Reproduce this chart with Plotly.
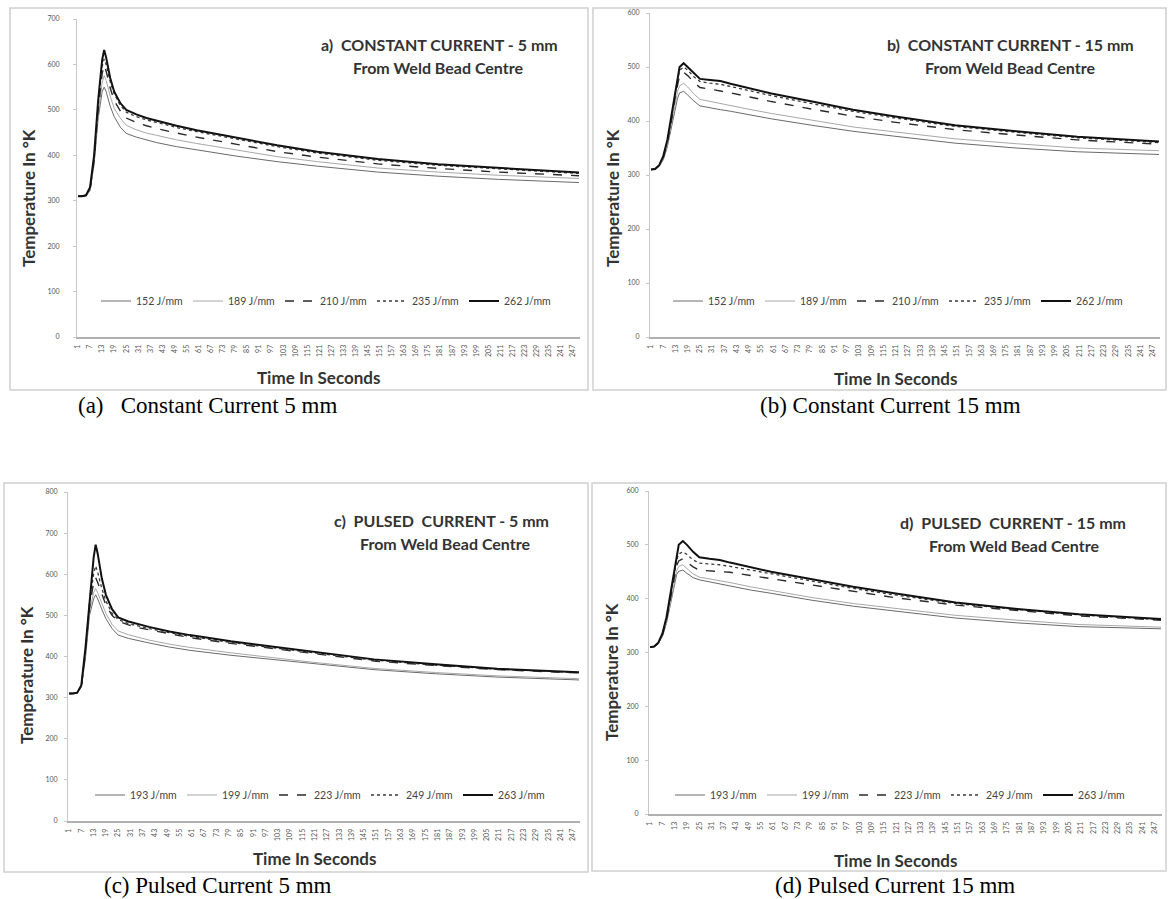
import plotly.graph_objects as go

W, H = 1169, 899

# ---------------- data ----------------
time_s = [1, 3, 5, 7, 9, 11, 13, 14, 15, 17, 19, 22, 25, 30, 35, 40, 50, 60, 80, 100, 120, 150, 180, 210, 250]
tick_vals = list(range(1, 248, 6))
tick_text = [str(v) for v in tick_vals]

cc_labels = ["152 J/mm", "189 J/mm", "210 J/mm", "235 J/mm", "262 J/mm"]
pc_labels = ["193 J/mm", "199 J/mm", "223 J/mm", "249 J/mm", "263 J/mm"]

# a) constant current, 5 mm
a_152 = [310, 310, 311, 322, 380, 480, 540, 550, 540, 508, 485, 462, 448, 440, 434, 428, 419, 412, 398, 386, 376, 363, 354, 347, 340]
a_189 = [310, 310, 311, 324, 385, 490, 560, 575, 565, 530, 503, 482, 466, 456, 449, 444, 434, 426, 411, 397, 386, 372, 363, 356, 349]
a_210 = [310, 310, 312, 326, 390, 500, 580, 598, 585, 548, 520, 498, 482, 472, 465, 459, 449, 440, 424, 408, 396, 381, 371, 363, 355]
a_235 = [310, 310, 312, 328, 395, 510, 595, 612, 600, 562, 535, 510, 495, 485, 478, 472, 461, 452, 435, 419, 405, 389, 378, 370, 360]
a_262 = [310, 310, 312, 330, 400, 520, 610, 632, 615, 570, 540, 515, 500, 490, 482, 476, 465, 455, 438, 422, 408, 392, 380, 372, 362]

# b) constant current, 15 mm
b_152 = [310, 311, 316, 328, 352, 386, 425, 442, 452, 455, 448, 437, 428, 424, 421, 418, 411, 404, 392, 381, 372, 359, 350, 343, 338]
b_189 = [310, 311, 317, 330, 356, 393, 435, 455, 465, 470, 463, 450, 440, 436, 433, 429, 421, 414, 401, 389, 380, 367, 358, 350, 345]
b_210 = [310, 311, 317, 332, 360, 400, 448, 470, 484, 490, 484, 472, 462, 459, 456, 452, 444, 436, 422, 409, 398, 384, 374, 365, 357]
b_235 = [310, 311, 318, 334, 363, 405, 455, 478, 494, 500, 494, 482, 473, 470, 468, 464, 455, 447, 432, 418, 406, 390, 379, 369, 360]
b_262 = [310, 311, 318, 335, 365, 410, 460, 485, 500, 507, 500, 488, 478, 476, 474, 469, 460, 451, 436, 421, 409, 392, 381, 371, 362]

# c) pulsed current, 5 mm
c_193 = [310, 310, 311, 325, 395, 500, 540, 550, 540, 515, 492, 468, 452, 444, 438, 433, 423, 415, 403, 393, 383, 368, 358, 350, 343]
c_199 = [310, 310, 311, 326, 400, 510, 555, 565, 555, 530, 505, 478, 462, 453, 446, 440, 430, 422, 409, 397, 386, 371, 361, 353, 346]
c_223 = [310, 310, 312, 327, 410, 520, 580, 592, 580, 550, 525, 500, 486, 477, 470, 465, 455, 446, 432, 420, 407, 389, 378, 368, 360]
c_249 = [310, 310, 312, 328, 415, 530, 600, 620, 605, 565, 535, 505, 490, 480, 474, 468, 458, 449, 434, 422, 409, 391, 379, 369, 361]
c_263 = [310, 310, 312, 330, 420, 540, 640, 672, 650, 590, 550, 515, 495, 485, 478, 472, 461, 452, 437, 424, 411, 393, 381, 370, 362]

# d) pulsed current, 15 mm
d_193 = [310, 311, 317, 329, 354, 390, 432, 445, 451, 453, 447, 439, 435, 431, 428, 424, 416, 410, 397, 386, 377, 364, 355, 348, 344]
d_199 = [310, 311, 317, 330, 356, 395, 438, 452, 460, 463, 456, 446, 440, 437, 434, 430, 422, 415, 402, 391, 382, 369, 360, 352, 347]
d_223 = [310, 311, 317, 332, 360, 400, 445, 462, 470, 474, 468, 459, 453, 452, 451, 449, 443, 437, 425, 413, 402, 388, 378, 368, 360]
d_249 = [310, 311, 318, 334, 362, 405, 452, 472, 483, 487, 482, 472, 466, 465, 463, 460, 453, 446, 432, 419, 407, 391, 380, 370, 361]
d_263 = [310, 311, 318, 335, 365, 410, 460, 485, 500, 507, 500, 487, 477, 474, 472, 467, 459, 450, 436, 422, 410, 393, 381, 371, 362]

# ---------------- styling ----------------
line_styles = [
    dict(color="#6a6a6a", width=1.0, dash="solid"),
    dict(color="#a8a8a8", width=1.0, dash="solid"),
    dict(color="#2a2a2a", width=1.4, dash="dash"),
    dict(color="#3a3a3a", width=1.3, dash="dot"),
    dict(color="#111111", width=2.0, dash="solid"),
]

FONT = "Lato"
NB = "\u00a0"
px = lambda x: x / W
py = lambda y: 1 - y / H

panels = [
    dict(key="", series=[a_152, a_189, a_210, a_235, a_262], labels=cc_labels,
         box=(77, 580, 19, 337), ymax=700, frame=(10, 588, 8, 390), ystand=12,
         title1="a)  CONSTANT CURRENT - 5 mm", t1=(439, 45), t2=(438, 68),
         ytitle=(28, 198), xtitle=(318, 377), legend_xy=(96, 301),
         caption="(a)" + NB * 3 + "Constant Current 5 mm", cap=(207, 405)),
    dict(key="2", series=[b_152, b_189, b_210, b_235, b_262], labels=cc_labels,
         box=(650, 1160, 13, 337), ymax=600, frame=(593, 1166, 8, 390), ystand=5,
         title1="b)  CONSTANT CURRENT - 15 mm", t1=(1011, 45), t2=(1010, 68),
         ytitle=(612, 198), xtitle=(895, 378), legend_xy=(668, 301),
         caption="(b) Constant Current 15 mm", cap=(890, 405)),
    dict(key="3", series=[c_193, c_199, c_223, c_249, c_263], labels=pc_labels,
         box=(68, 580, 492, 821), ymax=800, frame=(4, 588, 483, 872), ystand=5,
         title1="c)  PULSED  CURRENT - 5 mm", t1=(441, 520), t2=(445, 543),
         ytitle=(26, 675), xtitle=(314, 858), legend_xy=(90, 795),
         caption="(c) Pulsed Current 5 mm", cap=(218, 885)),
    dict(key="4", series=[d_193, d_199, d_223, d_249, d_263], labels=pc_labels,
         box=(649, 1162, 491, 814), ymax=600, frame=(592, 1166, 483, 871), ystand=5,
         title1="d)  PULSED  CURRENT - 15 mm", t1=(1013, 522), t2=(1014, 545),
         ytitle=(611, 672), xtitle=(895, 860), legend_xy=(670, 795),
         caption="(d) Pulsed Current 15 mm", cap=(895, 885)),
]

fig = go.Figure()
layout = dict(
    width=W, height=H, margin=dict(l=0, r=0, t=0, b=0, autoexpand=False),
    paper_bgcolor="white", plot_bgcolor="white", showlegend=True,
)
annotations = []
shapes = []

for i, p in enumerate(panels):
    k = p["key"]
    xname = "x" + k
    yname = "y" + k
    legname = "legend" + k
    for series, lab, st in zip(p["series"], p["labels"], line_styles):
        fig.add_trace(go.Scatter(
            x=time_s, y=series, mode="lines", name=lab,
            line=dict(color=st["color"], width=st["width"], dash=st["dash"]),
            xaxis=xname, yaxis=yname, legend=legname, showlegend=True,
        ))
    x0, x1, yt, yb = p["box"]
    layout["xaxis" + k] = dict(
        domain=[px(x0), px(x1)], anchor=yname, range=[0.5, 250.5],
        tickmode="array", tickvals=tick_vals, ticktext=tick_text, tickangle=-90,
        tickfont=dict(family=FONT, size=7, color="#555"), ticklabelstandoff=3,
        showgrid=False, zeroline=False, showline=True, linecolor="#b0b0b0", linewidth=2,
        ticks="", fixedrange=True, automargin=False,
    )
    layout["yaxis" + k] = dict(
        domain=[py(yb), py(yt)], anchor=xname, range=[0, p["ymax"]],
        tickmode="linear", tick0=0, dtick=100,
        tickfont=dict(family=FONT, size=7, color="#555"), ticklabelstandoff=p["ystand"],
        showgrid=False, zeroline=False, showline=True, linecolor="#c8c8c8", linewidth=1,
        ticks="outside", ticklen=3, tickcolor="#c8c8c8", fixedrange=True, automargin=False,
    )
    lx, ly = p["legend_xy"]
    layout[legname] = dict(
        orientation="h", x=px(lx), y=py(ly), xanchor="left", yanchor="middle",
        xref="paper", yref="paper", bgcolor="rgba(0,0,0,0)",
        font=dict(family=FONT, size=10.5, color="#444"),
        entrywidth=47, entrywidthmode="pixels", itemwidth=30,
    )
    fx0, fx1, fy0, fy1 = p["frame"]
    shapes.append(dict(type="rect", xref="paper", yref="paper",
                       x0=px(fx0), x1=px(fx1), y0=py(fy1), y1=py(fy0),
                       line=dict(color="#cfcfcf", width=1.5), fillcolor="rgba(0,0,0,0)", layer="below"))
    annotations.append(dict(text="<b>" + p["title1"] + "</b>", x=px(p["t1"][0]), y=py(p["t1"][1]),
                            xref="paper", yref="paper", showarrow=False, xanchor="center", yanchor="middle",
                            font=dict(family=FONT, size=16, color="#333")))
    annotations.append(dict(text="<b>From Weld Bead Centre</b>", x=px(p["t2"][0]), y=py(p["t2"][1]),
                            xref="paper", yref="paper", showarrow=False, xanchor="center", yanchor="middle",
                            font=dict(family=FONT, size=16, color="#333")))
    annotations.append(dict(text="<b>Temperature In °K</b>", x=px(p["ytitle"][0]), y=py(p["ytitle"][1]),
                            xref="paper", yref="paper", showarrow=False, textangle=-90,
                            xanchor="center", yanchor="middle",
                            font=dict(family=FONT, size=17, color="#333")))
    annotations.append(dict(text="<b>Time In Seconds</b>", x=px(p["xtitle"][0]), y=py(p["xtitle"][1]),
                            xref="paper", yref="paper", showarrow=False, xanchor="center", yanchor="middle",
                            font=dict(family=FONT, size=17, color="#333")))
    annotations.append(dict(text=p["caption"], x=px(p["cap"][0]), y=py(p["cap"][1]),
                            xref="paper", yref="paper", showarrow=False, xanchor="center", yanchor="middle",
                            font=dict(family="Liberation Serif", size=23, color="#000")))

layout["annotations"] = annotations
layout["shapes"] = shapes
fig.update_layout(**layout)
fig.write_html(
    "out.html",
    config={"displayModeBar": False},
    post_script="document.body.style.margin='0';document.body.style.overflow='hidden';",
)
